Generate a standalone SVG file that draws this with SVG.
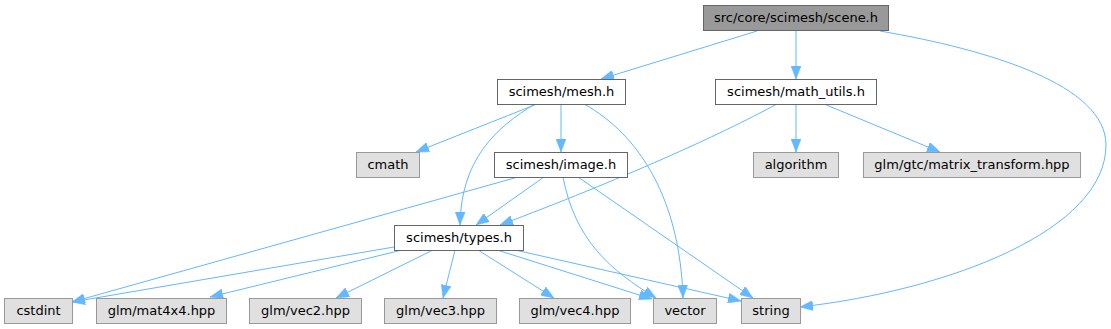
<svg xmlns="http://www.w3.org/2000/svg" width="1111" height="329" viewBox="0 0 1111 329">
<style>
rect{stroke-width:1}
.main{fill:#999999;stroke:#666666}
.int{fill:#ffffff;stroke:#666666}
.ext{fill:#e0e0e0;stroke:#999999}
text{font-family:"DejaVu Sans",sans-serif;font-size:13px;fill:#000000;text-anchor:middle}
.e{fill:none;stroke:#63b8ff;stroke-width:1;marker-end:url(#ah)}
</style>
<defs>
<marker id="ah" viewBox="0 0 13 10" markerWidth="13" markerHeight="10" markerUnits="userSpaceOnUse" refX="13" refY="5" orient="auto">
<path d="M0,0 L13,5 L0,10 z" fill="#63b8ff" stroke="#63b8ff" stroke-width="0.5"/>
</marker>
</defs>
<rect width="1111" height="329" fill="#ffffff"/>
<g id="connectors">
<path class="e" d="M757,31 L601,79"/>
<path class="e" d="M796,31 L796,79"/>
<path class="e" d="M880,31 C990,50 1106,85 1106,145 C1106,230 950,290 800,307"/>
<path class="e" d="M537,104 L416,152"/>
<path class="e" d="M561,104 L561,152"/>
<path class="e" d="M535,104 C495,128 461,160 460,225"/>
<path class="e" d="M584,104 C640,135 680,200 683,298"/>
<path class="e" d="M777,104 C720,135 620,180 500,225"/>
<path class="e" d="M796,104 L796,152"/>
<path class="e" d="M824,104 L940,152"/>
<path class="e" d="M544,177 L476,225"/>
<path class="e" d="M518,177 L72,302"/>
<path class="e" d="M563,177 C575,240 610,270 656,298"/>
<path class="e" d="M578,177 L753,298"/>
<path class="e" d="M394,247 L72,302"/>
<path class="e" d="M402,250 L210,297"/>
<path class="e" d="M433,250 L336,298"/>
<path class="e" d="M455,250 L443,298"/>
<path class="e" d="M478,250 L554,298"/>
<path class="e" d="M497,250 L652,299"/>
<path class="e" d="M515,250 L741,301"/>
</g>
<g id="n_scene"><rect class="main" x="703.5" y="5.5" width="185" height="25"/><text x="796" y="22">src/core/scimesh/scene.h</text></g>
<g id="n_mesh"><rect class="int" x="497.5" y="79.5" width="128" height="25"/><text x="561.5" y="96">scimesh/mesh.h</text></g>
<g id="n_math_utils"><rect class="int" x="715.5" y="79.5" width="161" height="25"/><text x="796" y="96">scimesh/math_utils.h</text></g>
<g id="n_cmath"><rect class="ext" x="356.5" y="152.5" width="63" height="25"/><text x="388" y="169">cmath</text></g>
<g id="n_image"><rect class="int" x="494.5" y="152.5" width="133" height="25"/><text x="561" y="169">scimesh/image.h</text></g>
<g id="n_algorithm"><rect class="ext" x="753.5" y="152.5" width="85" height="25"/><text x="796" y="169">algorithm</text></g>
<g id="n_matrix_transform"><rect class="ext" x="863.5" y="152.5" width="217" height="25"/><text x="972" y="169">glm/gtc/matrix_transform.hpp</text></g>
<g id="n_types"><rect class="int" x="394.5" y="225.5" width="129" height="25"/><text x="459" y="242">scimesh/types.h</text></g>
<g id="n_cstdint"><rect class="ext" x="4.5" y="298.5" width="68" height="25"/><text x="38.5" y="315">cstdint</text></g>
<g id="n_mat4x4"><rect class="ext" x="96.5" y="298.5" width="130" height="25"/><text x="161.5" y="315">glm/mat4x4.hpp</text></g>
<g id="n_vec2"><rect class="ext" x="249.5" y="298.5" width="112" height="25"/><text x="305.5" y="315">glm/vec2.hpp</text></g>
<g id="n_vec3"><rect class="ext" x="384.5" y="298.5" width="112" height="25"/><text x="440.5" y="315">glm/vec3.hpp</text></g>
<g id="n_vec4"><rect class="ext" x="519.5" y="298.5" width="111" height="25"/><text x="575" y="315">glm/vec4.hpp</text></g>
<g id="n_vector"><rect class="ext" x="653.5" y="298.5" width="63" height="25"/><text x="685" y="315">vector</text></g>
<g id="n_string"><rect class="ext" x="741.5" y="298.5" width="59" height="25"/><text x="771" y="315">string</text></g>
</svg>
